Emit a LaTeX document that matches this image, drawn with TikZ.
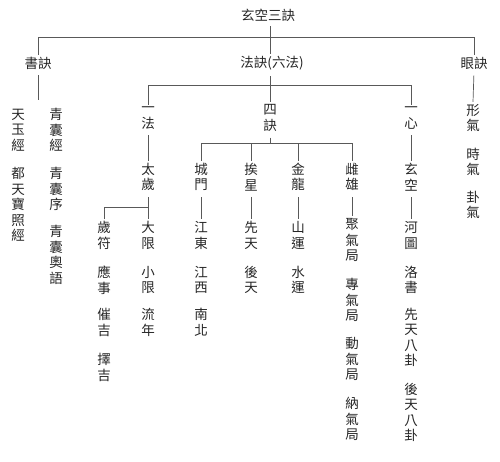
\documentclass[tikz,border=0pt]{standalone}
\usepackage{fontspec}
\newfontfamily\cjk{Noto Sans CJK TC}

\begin{document}
\begin{tikzpicture}[x=1pt, y=-1pt,
		word/.style={font=\cjk\fontsize{13.5}{15.5}\selectfont, text=black!85, inner sep=2pt, align=center},
		link/.style={draw=black!65, line width=0.7pt}]
		\useasboundingbox (0,0) rectangle (500,461);
		
		% Define the columns
		\def\xShu{38}
		\def\xFa{270}
		\def\xYan{473}
		\def\xSui{104}
		\def\xYi{148}
		\def\xCheng{201}
		\def\xAi{251}
		\def\xJin{298}
		\def\xCi{352}
		\def\xXin{411}
		
		% Define the rows
		\def\yTop{15}
		\def\yOne{63}
		\def\yTwo{118}
		\def\yThree{177}
		\def\yFour{235.5}
		\def\yFive{280}
		\def\ySix{322.5}
		
		% Top and first level
		\node[word] (root) at (268,\yTop) {玄空三訣};
		\node[word] (shu) at (\xShu,\yOne) {書訣};
		\node[word] (fa) at (272,\yOne) {法訣(六法)};
		\node[word] (yan) at (474,\yOne) {眼訣};
		
		% Books
		\node[word] (tianyu) at (18,130) {天\\玉\\經};
		\node[word] (dutian) at (18,204.5) {都\\天\\寶\\照\\經};
		\node[word] (qingjing) at (56,130) {青\\囊\\經};
		\node[word] (qingxu) at (56,189) {青\\囊\\序};
		\node[word] (aoyu) at (56,255) {青\\囊\\奧\\語};
		\coordinate (shuEnd) at (\xShu,100);
		
		% Eye
		\node[word] (xingqi) at (\xYan,\yTwo) {形\\氣};
		\node[word] (shiqi) at (\xYan,162) {時\\氣};
		\node[word] (guaqi) at (\xYan,205) {卦\\氣};
		
		% Second level
		\node[word] (yifa) at (\xYi,\yTwo) {一\\法};
		\node[word] (sijue) at (\xFa,\yTwo) {四\\訣};
		\node[word] (yixin) at (\xXin,\yTwo) {一\\心};
		
		% Third level
		\node[word] (taisui) at (\xYi,\yThree) {太\\歲};
		\node[word] (chengmen) at (\xCheng,\yThree) {城\\門};
		\node[word] (aixing) at (\xAi,\yThree) {挨\\星};
		\node[word] (jinlong) at (\xJin,\yThree) {金\\龍};
		\node[word] (cixiong) at (\xCi,\yThree) {雌\\雄};
		\node[word] (xuankong) at (\xXin,\yThree) {玄\\空};
		
		% Leaves
		\node[word] (suifu) at (\xSui,\yFour) {歲\\符};
		\node[word] (yingshi) at (\xSui,\yFive) {應\\事};
		\node[word] (cuiji) at (\xSui,\ySix) {催\\吉};
		\node[word] (zeji) at (\xSui,367.5) {擇\\吉};
		\node[word] (daxian) at (\xYi,\yFour) {大\\限};
		\node[word] (xiaoxian) at (\xYi,\yFive) {小\\限};
		\node[word] (liunian) at (\xYi,\ySix) {流\\年};
		\node[word] (jiangdong) at (\xCheng,\yFour) {江\\東};
		\node[word] (jiangxi) at (\xCheng,\yFive) {江\\西};
		\node[word] (nanbei) at (\xCheng,\ySix) {南\\北};
		\node[word] (xiantian) at (\xAi,\yFour) {先\\天};
		\node[word] (houtian) at (\xAi,\yFive) {後\\天};
		\node[word] (shanyun) at (\xJin,\yFour) {山\\運};
		\node[word] (shuiyun) at (\xJin,\yFive) {水\\運};
		\node[word] (juqi) at (\xCi,240) {聚\\氣\\局};
		\node[word] (zhuanqi) at (\xCi,300) {專\\氣\\局};
		\node[word] (dongqi) at (\xCi,359) {動\\氣\\局};
		\node[word] (naqi) at (\xCi,419) {納\\氣\\局};
		\node[word] (hetu) at (\xXin,\yFour) {河\\圖};
		\node[word] (luoshu) at (\xXin,\yFive) {洛\\書};
		\node[word] (xianbagua) at (\xXin,337.5) {先\\天\\八\\卦};
		\node[word] (houbagua) at (\xXin,412.5) {後\\天\\八\\卦};
		
		% Bus lines
		\coordinate (busTop) at (\xFa,37);
		\coordinate (busFa) at (\xFa,85);
		\coordinate (busSi) at (\xFa,143);
		\coordinate (busTai) at (\xYi,207);
		
		% Connectors
		\draw[link, shorten <=3pt] (root.south -| busTop) -- (busTop);
		\draw[link] (shu.north) -- (shu.north |- busTop) -- (yan.north |- busTop) -- (yan.north);
		\draw[link] (busTop) -- (busTop |- fa.north);
		\draw[link, shorten <=4pt] (shu.south) -- (shuEnd);
		\draw[link, shorten <=4pt] (yan.south) -- (xingqi.north);
		
		\draw[link, shorten <=4pt] (fa.south -| busFa) -- (busFa);
		\draw[link] (yifa.north) |- (yixin.north |- busFa) -- (yixin.north);
		\draw[link] (busFa) -- (sijue.north);
		
		\draw[link, shorten <=4pt] (sijue.south) -- (busSi);
		\draw[link] (chengmen.north) |- (cixiong.north |- busSi) -- (cixiong.north);
		\draw[link] (aixing.north) -- (aixing.north |- busSi);
		\draw[link] (jinlong.north) -- (jinlong.north |- busSi);
		
		\draw[link, shorten <=4pt] (yifa.south) -- (taisui.north);
		\draw[link, shorten <=4pt] (yixin.south) -- (xuankong.north);
		
		\draw[link, shorten <=4pt] (taisui.south) -- (daxian.north);
		\draw[link] (suifu.north) |- (busTai);
		\draw[link, shorten <=4pt] (chengmen.south) -- (jiangdong.north);
		\draw[link, shorten <=4pt] (aixing.south) -- (xiantian.north);
		\draw[link, shorten <=4pt] (jinlong.south) -- (shanyun.north);
		\draw[link, shorten <=4pt] (cixiong.south) -- (juqi.north);
		\draw[link, shorten <=4pt] (xuankong.south) -- (hetu.north);
		
	\end{tikzpicture}
\end{document}
